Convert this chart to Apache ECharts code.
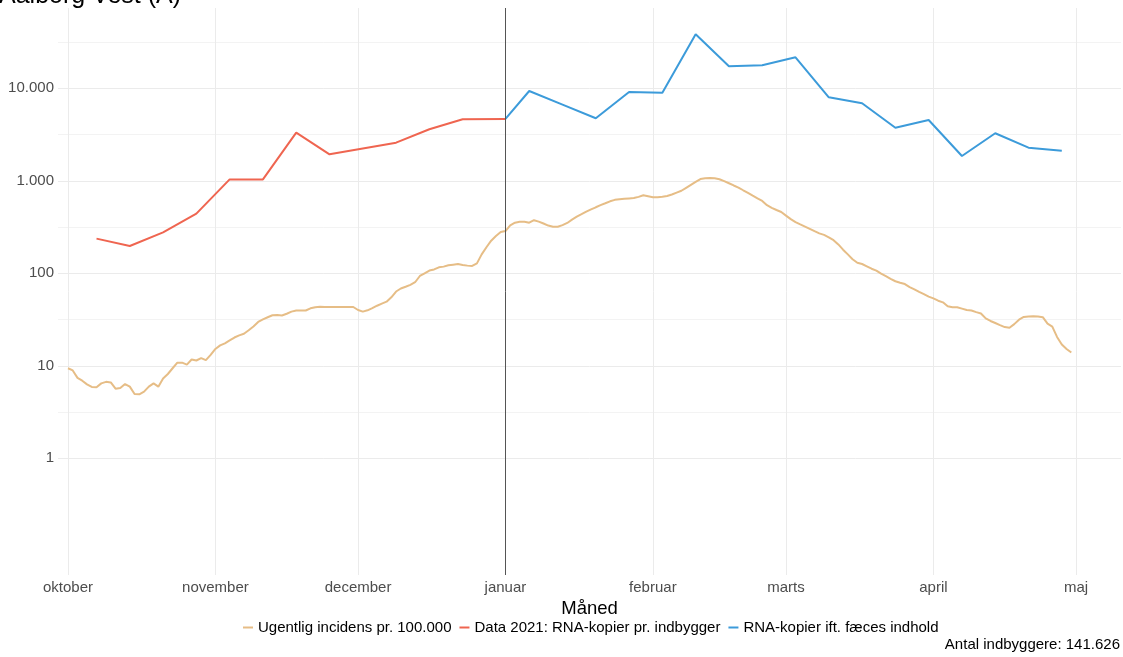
<!DOCTYPE html>
<html>
<head>
<meta charset="utf-8">
<script src="https://cdn.jsdelivr.net/npm/echarts@6/dist/echarts.min.js"></script>
<style>
html,body{margin:0;padding:0;background:#fff;}
#chart{width:1123px;height:657px;}
</style>
</head>
<body>
<div id="chart"></div>
<script>
// ---- data ----
const titleText = 'Aalborg Vest (A)';
const footnote = 'Antal indbyggere: 141.626';
const xAxisTitle = 'Måned';
const seriesNames = ['Ugentlig incidens pr. 100.000', 'Data 2021: RNA-kopier pr. indbygger', 'RNA-kopier ift. fæces indhold'];

const monthDates = ['2021-10-01','2021-11-01','2021-12-01','2022-01-01','2022-02-01','2022-03-01','2022-04-01','2022-05-01'];
const monthLabels = ['oktober','november','december','januar','februar','marts','april','maj'];

const yTickValues = [1, 10, 100, 1000, 10000];
const yTickLabels = ['1', '10', '100', '1.000', '10.000'];

// daily incidence, starting at incStart
const incStart = '2021-10-01';
const incValues = [
  9.4, 8.9, 7.4, 6.9, 6.3, 5.9, 5.85, 6.45, 6.7, 6.6,
  5.65, 5.75, 6.35, 5.95, 4.95, 4.92, 5.25, 5.95, 6.45, 5.95,
  7.3, 8.15, 9.4, 10.8, 10.8, 10.3, 11.7, 11.4, 12.1, 11.5,
  13.1, 15.2, 16.6, 17.5, 18.8, 20.2, 21.3, 22.2, 24.2, 26.6,
  29.8, 31.8, 33.5, 35.2, 35.3, 35, 36.5, 38.5, 39.6, 39.5,
  39.6, 41.8, 43, 43.5, 43.3, 43.2, 43.2, 43.2, 43.2, 43.2,
  43.2, 40.1, 38.5, 39.8, 42, 44.6, 47, 49.3, 55, 63.5,
  68.5, 71.5, 75, 80, 93.5, 100, 107, 110, 116, 118,
  122, 124, 126, 123, 121, 120, 128, 160, 191, 225,
  253, 279, 286, 330, 352, 360, 361, 352, 375, 362,
  345, 328, 319, 319, 332, 350, 380, 409, 435, 463,
  490, 517, 545, 571, 600, 622, 633, 640, 645, 650,
  670, 697, 680, 663, 665, 672, 685, 710, 745, 780,
  840, 905, 975, 1045, 1065, 1072, 1065, 1040, 990, 940,
  890, 845, 790, 740, 690, 645, 605, 545, 510, 483,
  460, 420, 385, 358, 338, 320, 302, 285, 270, 260,
  245, 228, 205, 180, 160, 142, 130, 126, 119, 112,
  107, 99, 93, 87, 82, 79, 76.5, 71, 67, 63,
  59.5, 56, 53.5, 50.5, 48.5, 44, 43, 42.9, 41.5, 40.1,
  39.6, 38, 36.8, 32.5, 30.5, 29, 27.5, 26.2, 25.8, 28.2,
  31.5, 33.7, 34, 34.3, 34, 33.5, 28.5, 26.5, 20.5, 17,
  15.2, 13.9
];

const redDates = ['2021-10-07','2021-10-14','2021-10-21','2021-10-28','2021-11-04','2021-11-11','2021-11-18','2021-11-25','2021-12-09','2021-12-16','2021-12-23','2022-01-01'];
const redValues = [237, 197, 277, 441, 1035, 1035, 3310, 1933, 2582, 3605, 4624, 4660];

const blueDates = ['2022-01-01','2022-01-06','2022-01-13','2022-01-20','2022-01-27','2022-02-03','2022-02-10','2022-02-17','2022-02-24','2022-03-03','2022-03-10','2022-03-17','2022-03-24','2022-03-31','2022-04-07','2022-04-14','2022-04-21','2022-04-28'];
const blueValues = [4660, 9350, 6665, 4742, 9120, 8960, 38370, 17300, 17740, 21640, 7995, 6888, 3750, 4540, 1854, 3263, 2281, 2115];

const markDate = '2022-01-01';

// ---- build ----
function ts(s){ const p = s.split('-').map(Number); return new Date(p[0], p[1]-1, p[2]).getTime(); }
const sp = incStart.split('-').map(Number);
const incData = incValues.map((v,i)=>[new Date(sp[0], sp[1]-1, sp[2]+i).getTime(), v]);
const redData = redDates.map((d,i)=>[ts(d), redValues[i]]);
const blueData = blueDates.map((d,i)=>[ts(d), blueValues[i]]);
const monthTs = monthDates.map(ts);

const DAY = 86400000;
const xMin = ts('2021-10-01') - 2.1*DAY;
const xMax = ts('2021-10-01') + 221.45*DAY;

const yMin = 0.0547, yMax = 73800;
const HALF = Math.sqrt(10); // auxiliary axis shifted by half a decade for minor gridlines

const colors = ['#E6BD86', '#EF6550', '#3C9BDA'];
const fontFam = '"Liberation Sans", Arial, sans-serif';
const MAJ = '#EBEBEB', MIN = '#F3F3F3', NONE = 'rgba(0,0,0,0)';

const chart = echarts.init(document.getElementById('chart'), null, {renderer:'canvas'});
chart.setOption({
  animation: false,
  backgroundColor: '#fff',
  textStyle: {fontFamily: fontFam},
  title: [
    {text: titleText, left: -1, top: -16, padding: 0, textStyle: {fontSize: 25, fontWeight: 'normal', color: '#000', fontFamily: fontFam}},
    {text: footnote, right: 3, top: 637, padding: 0, textStyle: {fontSize: 15, fontWeight: 'normal', color: '#000', fontFamily: fontFam}}
  ],
  legend: {
    bottom: 17, left: 238,
    icon: 'rect', itemWidth: 10, itemHeight: 2, itemGap: 8,
    textStyle: {fontSize: 15, color: '#000', fontFamily: fontFam},
    data: seriesNames
  },
  grid: {left: 58, right: 2, top: 8, bottom: 82, containLabel: false},
  xAxis: {
    type: 'value', min: xMin, max: xMax, scale: true,
    name: xAxisTitle, nameLocation: 'middle', nameGap: 19,
    nameTextStyle: {fontSize: 18.5, color: '#000', fontFamily: fontFam},
    axisLine: {show: false},
    axisTick: {show: false, customValues: monthTs},
    axisLabel: {customValues: monthTs, margin: 5, fontSize: 15, color: '#4D4D4D', fontFamily: fontFam,
      formatter: function(v){ const i = monthTs.indexOf(v); return i >= 0 ? monthLabels[i] : ''; }},
    splitLine: {show: true, lineStyle: {color: MAJ, width: 1}}
  },
  yAxis: [{
    type: 'log', min: yMin, max: yMax,
    axisLine: {show: false}, axisTick: {show: false},
    axisLabel: {margin: 4, fontSize: 15, color: '#4D4D4D', fontFamily: fontFam,
      formatter: function(v){
        for (let i = 0; i < yTickValues.length; i++) {
          if (Math.abs(v - yTickValues[i]) / yTickValues[i] < 1e-6) return yTickLabels[i];
        }
        return '';
      }},
    splitLine: {show: true, showMinLine: false, showMaxLine: false,
      lineStyle: {width: 1, color: [NONE, MAJ, MAJ, MAJ, MAJ, MAJ]}}
  }, {
    type: 'log', min: yMin * HALF, max: yMax * HALF, position: 'left',
    axisLine: {show: false}, axisTick: {show: false}, axisLabel: {show: false},
    splitLine: {show: true, showMinLine: false, showMaxLine: false,
      lineStyle: {width: 1, color: [NONE, MIN, MIN, MIN, MIN, MIN]}}
  }],
  series: [
    {name: seriesNames[0], type: 'line', data: incData, showSymbol: false, symbol: 'none',
      lineStyle: {color: colors[0], width: 2}, itemStyle: {color: colors[0]}, z: 2},
    {name: seriesNames[1], type: 'line', data: redData, showSymbol: false, symbol: 'none',
      lineStyle: {color: colors[1], width: 2}, itemStyle: {color: colors[1]}, z: 3,
      markLine: {silent: true, symbol: 'none', label: {show: false}, animation: false,
        lineStyle: {color: '#555', width: 1, type: 'solid'},
        data: [{xAxis: ts(markDate)}]}},
    {name: seriesNames[2], type: 'line', data: blueData, showSymbol: false, symbol: 'none',
      lineStyle: {color: colors[2], width: 2}, itemStyle: {color: colors[2]}, z: 3}
  ]
});
</script>
</body>
</html>
